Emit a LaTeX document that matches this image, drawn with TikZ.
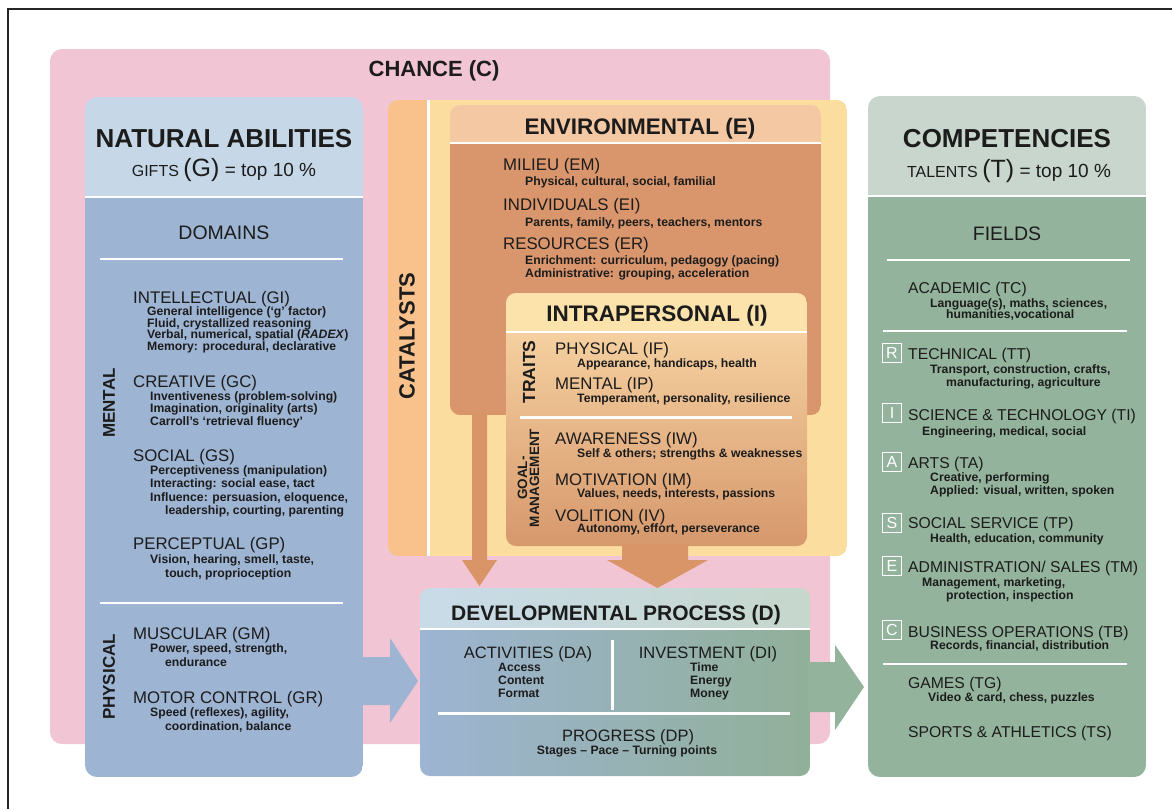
\documentclass[tikz,border=0pt]{standalone}
\usepackage{fontspec}
\setmainfont{Liberation Sans}
\definecolor{txt}{RGB}{28,28,28}
\definecolor{pinkC}{RGB}{242,197,212}
\definecolor{blueHead}{RGB}{198,216,232}
\definecolor{blueBody}{RGB}{158,180,211}
\definecolor{orangeStrip}{RGB}{249,193,140}
\definecolor{yellowCat}{RGB}{251,221,160}
\definecolor{envHead}{RGB}{245,200,164}
\definecolor{envBody}{RGB}{217,150,109}
\definecolor{intraHead}{RGB}{252,227,172}
\definecolor{intraTop}{RGB}{245,208,160}
\definecolor{intraBot}{RGB}{214,152,108}
\definecolor{arrowOr}{RGB}{217,148,104}
\definecolor{devHeadL}{RGB}{200,219,232}
\definecolor{devHeadR}{RGB}{198,215,204}
\definecolor{devBodyL}{RGB}{157,180,211}
\definecolor{devBodyR}{RGB}{145,176,152}
\definecolor{greenHead}{RGB}{200,214,206}
\definecolor{greenBody}{RGB}{148,179,156}
\tikzset{
  hd/.style={anchor=base west, inner sep=0pt, font=\fontsize{16.8}{18}\selectfont, text=txt},
  rhd/.style={anchor=base west, inner sep=0pt, font=\fontsize{15.7}{18}\selectfont, text=txt},
  subt/.style={anchor=base west, inner sep=0pt, font=\fontsize{12.2}{12}\selectfont\bfseries, text=txt},
  ttl/.style={anchor=base, inner sep=0pt, font=\fontsize{22.5}{24}\selectfont\bfseries, text=txt},
  big/.style={anchor=base, inner sep=0pt, font=\fontsize{26}{28}\selectfont\bfseries, text=txt},
  vert/.style={rotate=90, inner sep=0pt, font=\fontsize{17}{17}\selectfont\bfseries, text=txt},
  wline/.style={draw=white, line width=2.5pt},
  lbox/.style={draw=white, line width=1pt, minimum size=19pt, inner sep=0pt, text=white, font=\fontsize{16}{16}\selectfont},
  mid/.style={anchor=base, inner sep=0pt, text=txt}
}
\begin{document}
\begin{tikzpicture}[x=1pt, y=-1pt]
\useasboundingbox (0,0) rectangle (1172,809);
\fill[white] (0,0) rectangle (1172,809);
\draw[black!85, line width=1.2pt] (8,809) -- (8,9) -- (1172,9);

% CHANCE
\fill[pinkC, rounded corners=12] (50,49) rectangle (830,744);
\node[ttl, font=\fontsize{22}{24}\selectfont\bfseries] (chance) at (434,76) {CHANCE (C)};

% LEFT PANEL
\begin{scope}
  \clip[rounded corners=12] (85,97) rectangle (363,777);
  \fill[blueHead] (85,97) rectangle (363,198);
  \fill[blueBody] (85,198) rectangle (363,777);
  \draw[wline] (85,197) -- (363,197);
\end{scope}
\node[big] (naT) at (224,147) {NATURAL ABILITIES};
\node[mid] (naG) at (224,176) {\fontsize{16}{16}\selectfont GIFTS \fontsize{25}{25}\selectfont(G)\fontsize{19}{19}\selectfont{} = top 10 \%};
\node[mid, font=\fontsize{19.5}{20}\selectfont] (dom) at (224,239) {DOMAINS};
\draw[wline] (100,259) -- (343,259);
\node[vert] (mental) at (109,403) {MENTAL};
\node[hd] (gi) at (133,303) {INTELLECTUAL (GI)};
\node[subt] (gi1) at (147,315.5) {General intelligence (`g' factor)};
\node[subt] (gi2) at (147,327) {Fluid, crystallized reasoning};
\node[subt] (gi3) at (147,338.5) {Verbal, numerical, spatial (\textit{RADEX})};
\node[subt] (gi4) at (147,350) {Memory: procedural, declarative};
\node[hd] (gc) at (133,387) {CREATIVE (GC)};
\node[subt] (gc1) at (150,400) {Inventiveness (problem-solving)};
\node[subt] (gc2) at (150,412.5) {Imagination, originality (arts)};
\node[subt] (gc3) at (150,425) {Carroll's `retrieval fluency'};
\node[hd] (gs) at (133,461) {SOCIAL (GS)};
\node[subt] (gs1) at (150,474) {Perceptiveness (manipulation)};
\node[subt] (gs2) at (150,487.5) {Interacting: social ease, tact};
\node[subt] (gs3) at (150,501) {Influence: persuasion, eloquence,};
\node[subt] (gs4) at (165,514.5) {leadership, courting, parenting};
\node[hd] (gp) at (133,549) {PERCEPTUAL (GP)};
\node[subt] (gp1) at (150,563.5) {Vision, hearing, smell, taste,};
\node[subt] (gp2) at (165,577) {touch, proprioception};
\draw[wline] (100,603) -- (343,603);
\node[vert] (physical) at (109,677) {PHYSICAL};
\node[hd] (gm) at (133,639) {MUSCULAR (GM)};
\node[subt] (gm1) at (150,652.5) {Power, speed, strength,};
\node[subt] (gm2) at (165,666.5) {endurance};
\node[hd] (gr) at (133,703) {MOTOR CONTROL (GR)};
\node[subt] (gr1) at (150,716.5) {Speed (reflexes), agility,};
\node[subt] (gr2) at (165,730) {coordination, balance};

% CATALYSTS
\begin{scope}
  \clip[rounded corners=10] (388,100) rectangle (847,556);
  \fill[orangeStrip] (388,100) rectangle (428,556);
  \fill[yellowCat] (428,100) rectangle (847,556);
  \draw[draw=white, line width=3.5pt] (428.5,100) -- (428.5,556);
\end{scope}
\node[vert, font=\fontsize{22}{22}\selectfont\bfseries] (cat) at (407,336) {CATALYSTS};

% ENVIRONMENTAL
\begin{scope}
  \clip[rounded corners=10] (450,105) rectangle (821,415);
  \fill[envHead] (450,105) rectangle (821,143);
  \fill[envBody] (450,143) rectangle (821,415);
  \draw[wline] (450,143) -- (821,143);
\end{scope}
\node[ttl] (envT) at (640,134) {ENVIRONMENTAL (E)};
\node[hd] (em) at (503,170) {MILIEU (EM)};
\node[subt] (em1) at (525,185) {Physical, cultural, social, familial};
\node[hd] (ei) at (503,210) {INDIVIDUALS (EI)};
\node[subt] (ei1) at (525,226) {Parents, family, peers, teachers, mentors};
\node[hd] (er) at (503,249) {RESOURCES (ER)};
\node[subt] (er1) at (525,264) {Enrichment: curriculum, pedagogy (pacing)};
\node[subt] (er2) at (525,277) {Administrative: grouping, acceleration};

% left orange arrow
\fill[arrowOr] (472,413) -- (472,560) -- (462,560) -- (479.5,586) -- (497,560) -- (487,560) -- (487,413) -- cycle;

% INTRAPERSONAL
\begin{scope}
  \clip[rounded corners=10] (506,293) rectangle (807,546);
  \fill[intraHead] (506,293) rectangle (807,332);
  \shade[top color=intraTop, bottom color=intraBot] (506,332) rectangle (807,546);
  \draw[wline] (506,332) -- (807,332);
\end{scope}
\draw[draw=white, line width=3pt] (520,417) -- (792,417);
\node[ttl] (intT) at (657,321) {INTRAPERSONAL (I)};
\node[vert, font=\fontsize{17.5}{17.5}\selectfont\bfseries] (traits) at (529,372) {TRAITS};
\node[hd] (if) at (555,354) {PHYSICAL (IF)};
\node[subt] (if1) at (577,367) {Appearance, handicaps, health};
\node[hd] (ip) at (555,389) {MENTAL (IP)};
\node[subt] (ip1) at (577,402) {Temperament, personality, resilience};
\node[vert, font=\fontsize{13.5}{12}\selectfont\bfseries, align=center] (goal) at (528.5,478) {GOAL-\\MANAGEMENT};
\node[hd] (iw) at (555,444) {AWARENESS (IW)};
\node[subt] (iw1) at (577,457) {Self \& others; strengths \& weaknesses};
\node[hd] (im) at (555,485) {MOTIVATION (IM)};
\node[subt] (im1) at (577,497) {Values, needs, interests, passions};
\node[hd] (iv) at (555,521) {VOLITION (IV)};
\node[subt] (iv1) at (577,532) {Autonomy, effort, perseverance};

% big orange arrow
\fill[arrowOr] (622,544) -- (622,560) -- (607,560) -- (657.5,588) -- (708,560) -- (688,560) -- (688,544) -- cycle;

% blue arrow
\fill[blueBody] (361,657) -- (390,657) -- (390,638) -- (418,681) -- (390,723) -- (390,705) -- (361,705) -- cycle;

% DEVELOPMENTAL PROCESS
\begin{scope}
  \clip[rounded corners=10] (420,588) rectangle (810,776);
  \shade[left color=devHeadL, right color=devHeadR] (420,588) rectangle (810,629);
  \shade[left color=devBodyL, right color=devBodyR] (420,629) rectangle (810,776);
  \draw[wline] (420,629) -- (810,629);
\end{scope}
\node[ttl, font=\fontsize{21}{24}\selectfont\bfseries] (devT) at (616,620) {DEVELOPMENTAL PROCESS (D)};
\node[mid, font=\fontsize{16.5}{18}\selectfont] (da) at (528,658) {ACTIVITIES (DA)};
\node[subt] (da1) at (498,671) {Access};
\node[subt] (da2) at (498,684) {Content};
\node[subt] (da3) at (498,697) {Format};
\node[mid, font=\fontsize{16.5}{18}\selectfont] (di) at (708,658) {INVESTMENT (DI)};
\node[subt] (di1) at (690,671) {Time};
\node[subt] (di2) at (690,684) {Energy};
\node[subt] (di3) at (690,697) {Money};
\draw[draw=white, line width=3pt] (612,640) -- (612,710);
\draw[draw=white, line width=3pt] (438,713) -- (790,713);
\node[mid, font=\fontsize{16.5}{18}\selectfont] (dp) at (628,741) {PROGRESS (DP)};
\node[mid, font=\fontsize{12.2}{12}\selectfont\bfseries] (dp1) at (627,754) {Stages -- Pace -- Turning points};

% green arrow
\fill[greenBody] (808,662) -- (835,662) -- (835,645) -- (864,687) -- (835,730) -- (835,712) -- (808,712) -- cycle;

% RIGHT PANEL
\begin{scope}
  \clip[rounded corners=12] (868,96) rectangle (1146,777);
  \fill[greenHead] (868,96) rectangle (1146,197);
  \fill[greenBody] (868,197) rectangle (1146,777);
  \draw[wline] (868,196) -- (1146,196);
\end{scope}
\node[big] (coT) at (1007,147) {COMPETENCIES};
\node[mid] (coG) at (1009,177) {\fontsize{16}{16}\selectfont TALENTS \fontsize{25}{25}\selectfont(T)\fontsize{19}{19}\selectfont{} = top 10 \%};
\node[mid, font=\fontsize{19.5}{20}\selectfont] (fld) at (1007,240) {FIELDS};
\draw[wline] (887,260) -- (1130,260);
\node[rhd] (tc) at (908,293) {ACADEMIC (TC)};
\node[subt] (tc1) at (930,307) {Language(s), maths, sciences,};
\node[subt] (tc2) at (946,318.5) {humanities,vocational};
\draw[wline] (883,331) -- (1127,331);
\node[lbox] (bR) at (892,352.5) {R};
\node[rhd] (tt) at (908,359.5) {TECHNICAL (TT)};
\node[subt] (tt1) at (930,373.5) {Transport, construction, crafts,};
\node[subt] (tt2) at (946,386) {manufacturing, agriculture};
\node[lbox] (bI) at (892,413) {I};
\node[rhd] (ti) at (908,420) {SCIENCE \& TECHNOLOGY (TI)};
\node[subt] (ti1) at (922,435) {Engineering, medical, social};
\node[lbox] (bA) at (892,462) {A};
\node[rhd] (ta) at (908,468) {ARTS (TA)};
\node[subt] (ta1) at (930,481) {Creative, performing};
\node[subt] (ta2) at (930,494) {Applied: visual, written, spoken};
\node[lbox] (bS) at (892,522.5) {S};
\node[rhd] (tp) at (908,528) {SOCIAL SERVICE (TP)};
\node[subt] (tp1) at (930,542) {Health, education, community};
\node[lbox] (bE) at (892,566) {E};
\node[rhd] (tm) at (908,572) {ADMINISTRATION/ SALES (TM)};
\node[subt] (tm1) at (922,586) {Management, marketing,};
\node[subt] (tm2) at (946,599) {protection, inspection};
\node[lbox] (bC) at (892,630) {C};
\node[rhd] (tb) at (908,637) {BUSINESS OPERATIONS (TB)};
\node[subt] (tb1) at (930,649) {Records, financial, distribution};
\draw[wline] (883,664) -- (1127,664);
\node[rhd] (tg) at (908,688) {GAMES (TG)};
\node[subt] (tg1) at (928,701) {Video \& card, chess, puzzles};
\node[rhd] (ts) at (908,737) {SPORTS \& ATHLETICS (TS)};
\end{tikzpicture}
\end{document}
